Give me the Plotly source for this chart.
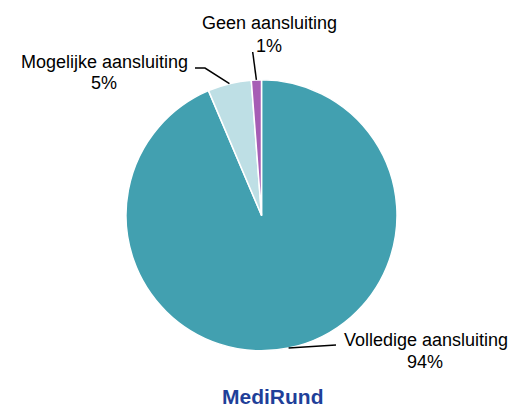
import math
import plotly.graph_objects as go

# Data
categories = ["Volledige aansluiting", "Mogelijke aansluiting", "Geen aansluiting"]
values = [93.6, 5.2, 1.2]
colors = ["#42A0B0", "#BEDFE5", "#A65DB5"]

W, H = 529, 408
OFF = 8  # page body margin offset
cx, cy, R = 261.5, 215.3, 135.5  # pixel geometry of the pie (layout, window coords)

def px(x):
    return (x - OFF) / W

def py(y):
    return 1 - (y - OFF) / H

fig = go.Figure(go.Pie(
    labels=categories,
    values=values,
    sort=False,
    direction="clockwise",
    rotation=0,
    marker=dict(colors=colors, line=dict(color="white", width=1.5)),
    textinfo="none",
    hoverinfo="label+percent",
    domain=dict(x=[px(cx - R), px(cx + R)],
                y=[py(cy + R), py(cy - R)]),
    showlegend=False,
))

# label layout: (name centre, pct centre, leader path end points) in window pixels
label_layout = [
    dict(nx=426, ny=340, pxx=425, pyy=362, path=[(336, 345)]),
    dict(nx=104.5, ny=62, pxx=104, pyy=83, path=[(205, 68), (195, 68)]),
    dict(nx=269, ny=23, pxx=269, pyy=46, path=[(252.7, 52)]),
]

FONT = "Liberation Sans, Arial"
total = sum(values)
cum = 0.0
annotations = []
shapes = []
for name, v, lay in zip(categories, values, label_layout):
    mid = (cum + v / 2) / total * 2 * math.pi
    cum += v
    sx = cx + R * math.sin(mid)
    sy = cy - R * math.cos(mid)
    pts = [(sx, sy)] + lay["path"]
    d = "M " + " L ".join(f"{px(a)},{py(b)}" for a, b in pts)
    shapes.append(dict(type="path", xref="paper", yref="paper", path=d,
                       line=dict(color="black", width=1.5)))
    pct = round(v / total * 100)
    annotations.append(dict(x=px(lay["nx"]), y=py(lay["ny"]), xref="paper", yref="paper",
                            text=name, showarrow=False, xanchor="center", yanchor="middle",
                            font=dict(size=18, color="black", family=FONT)))
    annotations.append(dict(x=px(lay["pxx"]), y=py(lay["pyy"]), xref="paper", yref="paper",
                            text=f"{pct}%", showarrow=False, xanchor="center", yanchor="middle",
                            font=dict(size=18, color="black", family=FONT)))

annotations.append(dict(x=px(272.5), y=py(396), xref="paper", yref="paper",
                        text="<b>MediRund</b>", showarrow=False, xanchor="center", yanchor="middle",
                        font=dict(size=21, color="#1F3F99", family=FONT)))

fig.update_layout(
    width=W, height=H,
    margin=dict(l=0, r=0, t=0, b=0),
    paper_bgcolor="white",
    plot_bgcolor="white",
    annotations=annotations,
    shapes=shapes,
)

fig.write_html("out.html")
